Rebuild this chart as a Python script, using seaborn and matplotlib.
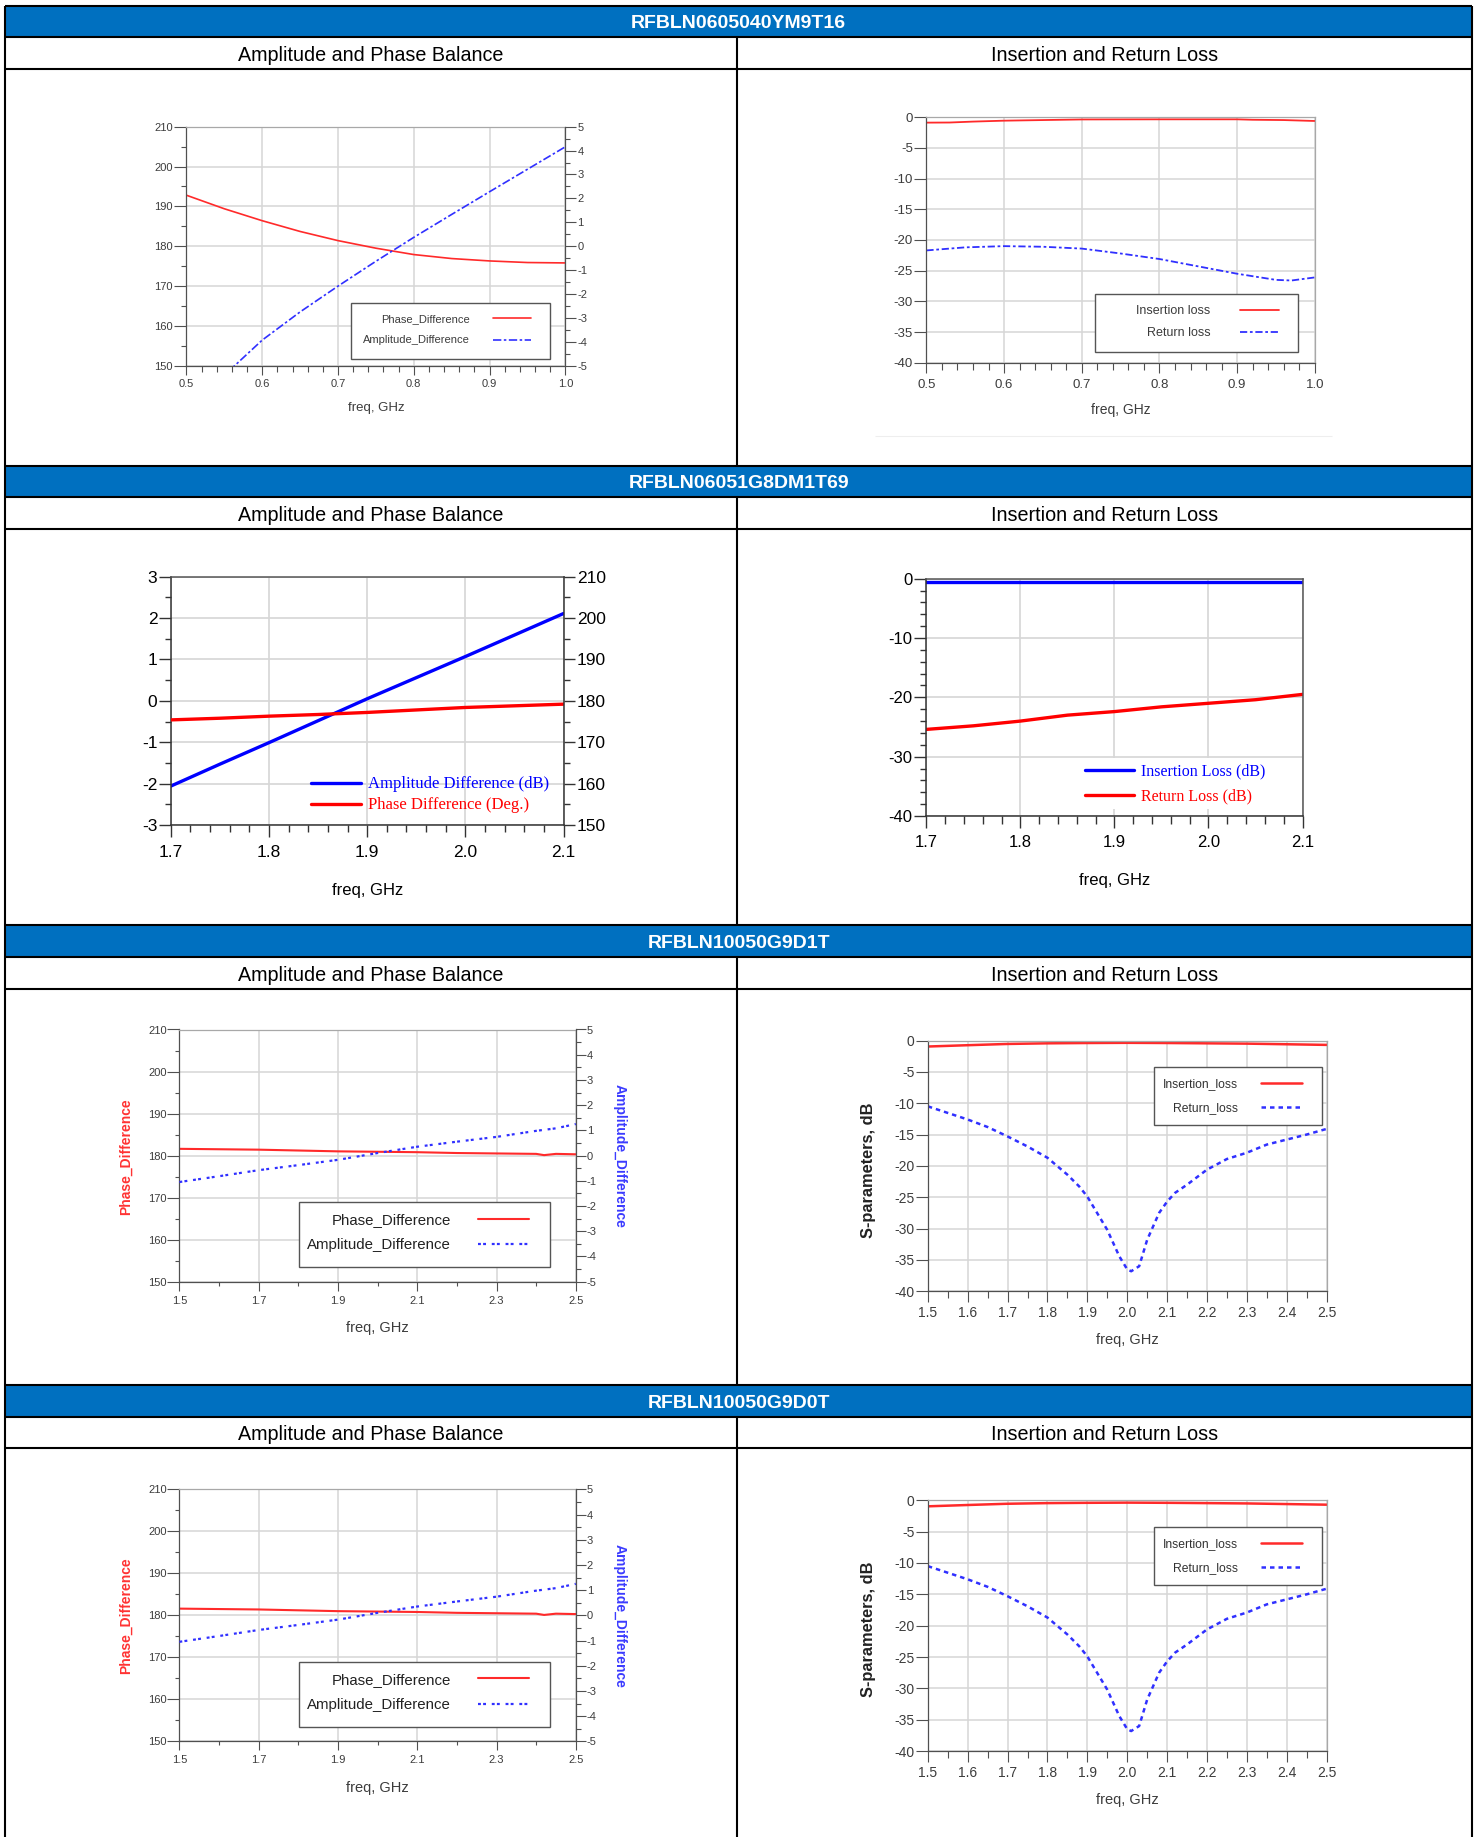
import matplotlib
matplotlib.use("Agg")
import matplotlib.pyplot as plt
from matplotlib.patches import Rectangle
from matplotlib.ticker import MultipleLocator, FixedLocator, FormatStrFormatter
import numpy as np
import pandas as pd
import seaborn as sns

# ------------------------------------------------------------------ data
part_numbers = ["RFBLN0605040YM9T16", "RFBLN06051G8DM1T69", "RFBLN10050G9D1T", "RFBLN10050G9D0T"]
col_headers = ["Amplitude and Phase Balance", "Insertion and Return Loss"]

# RFBLN0605040YM9T16
b1_freq = [0.50, 0.55, 0.60, 0.65, 0.70, 0.75, 0.80, 0.85, 0.90, 0.95, 1.00]
b1_phase_diff = [192.8, 189.4, 186.4, 183.7, 181.4, 179.5, 177.9, 176.9, 176.3, 175.9, 175.8]
b1_amp_diff = [-7.2, -5.4, -3.93, -2.75, -1.67, -0.63, 0.37, 1.33, 2.28, 3.22, 4.16]
b1_il_freq = [0.50, 0.53, 0.56, 0.60, 0.65, 0.70, 0.80, 0.90, 0.92, 0.96, 1.00]
b1_insertion = [-0.87, -0.85, -0.70, -0.55, -0.45, -0.35, -0.33, -0.33, -0.40, -0.45, -0.60]
b1_rl_freq = [0.50, 0.55, 0.60, 0.65, 0.70, 0.75, 0.80, 0.85, 0.90, 0.95, 0.97, 1.00]
b1_return = [-21.7, -21.2, -21.0, -21.1, -21.4, -22.2, -23.1, -24.3, -25.5, -26.5, -26.6, -26.1]

# RFBLN06051G8DM1T69
b2_freq = [1.70, 1.75, 1.80, 1.85, 1.90, 1.95, 2.00, 2.05, 2.10]
b2_amp_diff = [-2.06, -1.53, -1.01, -0.48, 0.05, 0.56, 1.07, 1.59, 2.11]
b2_phase_diff = [175.4, 175.8, 176.3, 176.7, 177.2, 177.8, 178.4, 178.8, 179.2]
b2_insertion = [-0.55, -0.55, -0.55, -0.55, -0.55, -0.55, -0.55, -0.55, -0.55]
b2_return = [-25.4, -24.8, -24.0, -23.0, -22.4, -21.6, -21.0, -20.4, -19.5]

# RFBLN10050G9D1T
b3_freq = [1.5, 1.6, 1.7, 1.8, 1.9, 2.0, 2.1, 2.2, 2.3, 2.4, 2.42, 2.45, 2.5]
b3_phase_diff = [181.6, 181.5, 181.4, 181.2, 181.0, 180.9, 180.8, 180.6, 180.5, 180.4, 180.1, 180.4, 180.3]
b3_amp_diff = [-1.05, -0.82, -0.58, -0.38, -0.17, 0.10, 0.35, 0.55, 0.74, 0.98, 1.02, 1.08, 1.25]
b3_il_freq = [1.5, 1.6, 1.7, 1.8, 1.9, 2.0, 2.1, 2.2, 2.3, 2.4, 2.5]
b3_insertion = [-0.96, -0.75, -0.55, -0.45, -0.40, -0.37, -0.40, -0.45, -0.50, -0.60, -0.70]
b3_rl_freq = [1.5, 1.6, 1.65, 1.7, 1.75, 1.8, 1.85, 1.88, 1.9, 1.95, 1.98, 2.0, 2.01, 2.03,
              2.05, 2.08, 2.1, 2.12, 2.15, 2.2, 2.25, 2.3, 2.35, 2.4, 2.45, 2.5]
b3_return = [-10.5, -12.6, -13.8, -15.3, -16.9, -18.7, -21.4, -23.3, -24.9, -30.2, -34.4, -36.5, -36.8, -36.0,
             -31.8, -27.5, -25.7, -24.3, -23.0, -20.6, -18.9, -17.9, -16.6, -15.8, -15.0, -14.1]
b3_x_ticks = [1.5, 1.7, 1.9, 2.1, 2.3, 2.5]

# RFBLN10050G9D0T (same measured curves)
b4_freq = list(b3_freq)
b4_phase_diff = list(b3_phase_diff)
b4_amp_diff = list(b3_amp_diff)
b4_il_freq = list(b3_il_freq)
b4_insertion = list(b3_insertion)
b4_rl_freq = list(b3_rl_freq)
b4_return = list(b3_return)

# ------------------------------------------------------------------ style
sns.set_style("ticks")
plt.rcParams["font.family"] = ["Liberation Sans", "DejaVu Sans"]
plt.rcParams["axes.unicode_minus"] = False

W, H = 1479, 1837
fig = plt.figure(figsize=(W / 100, H / 100), dpi=100)


def frect(x0, y0, x1, y1):
    return [x0 / W, 1 - y1 / H, (x1 - x0) / W, (y1 - y0) / H]


def fpt(x, y):
    return (x / W, 1 - y / H)


HDR_BLUE = "#0070C0"
GRID = "#d6d6d6"
AX_DARK = "#505050"
AX_LIGHT = "#a8a8a8"
TXT = "#3c3c3c"
RED = "#ff2a2a"
BLUE = "#3030ff"
tops = [5.7, 465.5, 925.3, 1385.1]

# ------------------------------------------------------------------ table layout
bg = fig.add_axes([0, 0, 1, 1], zorder=-10)
bg.set_xlim(0, W)
bg.set_ylim(H, 0)
bg.axis("off")
XL, XR, XM = 5.0, 1472.3, 737.2
LW = 1.5
for k, T in enumerate(tops):
    bg.add_patch(Rectangle((XL, T), XR - XL, 31.5, facecolor=HDR_BLUE, edgecolor="none"))
    bg.hlines([T, T + 31.7, T + 63.3], XL, XR, color="black", lw=LW)
    bottom = tops[k + 1] if k + 1 < len(tops) else H
    bg.vlines(XM, T + 31.7, bottom, color="black", lw=LW)
    bg.text((XL + XR) / 2, T + 22.6, part_numbers[k], ha="center", va="baseline",
            color="white", fontsize=14, fontweight="bold")
    bg.text((XL + XM) / 2, T + 55.3, col_headers[0], ha="center", va="baseline",
            color="black", fontsize=14.2)
    bg.text((XM + XR) / 2, T + 55.3, col_headers[1], ha="center", va="baseline",
            color="black", fontsize=14.2)
bg.vlines([XL, XR], tops[0], H, color="black", lw=LW)
bg.hlines(tops[0] + 430.3, 875, 1332, color="#eeeeee", lw=0.8)


# ------------------------------------------------------------------ helpers
def set_spines(ax, width=0.9, **cols):
    for side in ["left", "right", "top", "bottom"]:
        c = cols.get(side)
        if c is None:
            ax.spines[side].set_visible(False)
        else:
            ax.spines[side].set_visible(True)
            ax.spines[side].set_color(c)
            ax.spines[side].set_linewidth(width)


def ticks(ax, axis, maj_len, min_len, size, color, pad, tcolor=AX_DARK, width=0.8):
    ax.tick_params(axis=axis, which="major", direction="out", length=maj_len, width=width,
                   color=tcolor, labelsize=size, labelcolor=color, pad=pad)
    ax.tick_params(axis=axis, which="minor", direction="out", length=min_len, width=width,
                   color=tcolor)


def place_xlabel(ax, box, text, ycen, **kw):
    x0, y0, x1, y1 = box
    ax.set_xlabel(text, **kw)
    ax.xaxis.set_label_coords(0.5, (y1 - ycen) / (y1 - y0))
    ax.xaxis.label.set_va("center")


def place_ylabel(ax, box, text, xcen, ycen, **kw):
    x0, y0, x1, y1 = box
    ax.set_ylabel(text, **kw)
    ax.yaxis.set_label_coords((xcen - x0) / (x1 - x0), (y1 - ycen) / (y1 - y0))
    ax.yaxis.label.set_va("center")
    ax.yaxis.label.set_ha("center")


def legend_frame(ax, x0, y0, x1, y1):
    r = Rectangle(fpt(x0, y1), (x1 - x0) / W, (y1 - y0) / H, transform=fig.transFigure,
                  facecolor="white", edgecolor="#555555", lw=1.0, zorder=4)
    ax.add_artist(r)


def all_handles(*axes):
    hs, ls = [], []
    for a in axes:
        h, l = a.get_legend_handles_labels()
        hs += h
        ls += l
    return hs, ls


# ------------------------------------------------------------------ block 1 left
T = tops[0]
box = (186.4, T + 121.0, 565.4, T + 360.0)
ax = fig.add_axes(frect(*box))
ax2 = ax.twinx()
sns.lineplot(x=b1_freq, y=b1_phase_diff, ax=ax, color=RED, linewidth=1.2,
             label="Phase_Difference", legend=False)
sns.lineplot(x=b1_freq, y=b1_amp_diff, ax=ax2, color=BLUE, linewidth=1.2,
             linestyle=(0, (5, 1.5, 1.5, 1.5)), label="Amplitude_Difference", legend=False)
ax.set_xlim(0.5, 1.0)
ax.set_ylim(150, 210)
ax2.set_ylim(-5, 5)
ax.xaxis.set_major_locator(MultipleLocator(0.1))
ax.xaxis.set_minor_locator(MultipleLocator(0.02))
ax.yaxis.set_major_locator(MultipleLocator(10))
ax.yaxis.set_minor_locator(MultipleLocator(5))
ax2.yaxis.set_major_locator(MultipleLocator(1))
ax2.yaxis.set_minor_locator(MultipleLocator(0.5))
ax.xaxis.set_major_formatter(FormatStrFormatter("%.1f"))
ax.yaxis.set_major_formatter(FormatStrFormatter("%d"))
ax2.yaxis.set_major_formatter(FormatStrFormatter("%d"))
ax.grid(True, which="major", color=GRID, lw=1.1)
ax.set_axisbelow(True)
set_spines(ax, left=AX_DARK, bottom=AX_DARK, top=AX_LIGHT)
set_spines(ax2, right=AX_DARK)
ticks(ax, "y", 8.6, 3.6, 8, TXT, 1.0)
ticks(ax, "x", 6.5, 4.3, 8, TXT, 2.8)
ticks(ax2, "y", 7.9, 3.6, 8, TXT, 0.8)
place_xlabel(ax, box, "freq, GHz", T + 402.3, fontsize=9.5, color=TXT)
ax.set_ylabel("")
ax2.set_ylabel("")
legend_frame(ax2, 350.6, T + 297.0, 549.8, T + 353.6)
h, l = all_handles(ax, ax2)
ax2.legend(h, l, loc="center right", bbox_to_anchor=fpt(531, T + 324.2), bbox_transform=fig.transFigure,
           frameon=False, markerfirst=False, fontsize=8, handlelength=3.4, handletextpad=2.1,
           labelspacing=1.0, borderpad=0, borderaxespad=0, labelcolor=TXT)

# ------------------------------------------------------------------ block 1 right
box = (926.4, T + 111.6, 1314.8, T + 357.0)
ax = fig.add_axes(frect(*box))
sns.lineplot(x=b1_il_freq, y=b1_insertion, ax=ax, color=RED, linewidth=1.3,
             label="Insertion loss", legend=False)
sns.lineplot(x=b1_rl_freq, y=b1_return, ax=ax, color=BLUE, linewidth=1.3,
             linestyle=(0, (4, 1.5, 1.5, 1.5)), label="Return loss", legend=False)
ax.set_xlim(0.5, 1.0)
ax.set_ylim(-40, 0)
ax.xaxis.set_major_locator(MultipleLocator(0.1))
ax.xaxis.set_minor_locator(MultipleLocator(0.02))
ax.yaxis.set_major_locator(MultipleLocator(5))
ax.xaxis.set_major_formatter(FormatStrFormatter("%.1f"))
ax.yaxis.set_major_formatter(FormatStrFormatter("%d"))
ax.grid(True, which="major", color=GRID, lw=1.1)
ax.set_axisbelow(True)
set_spines(ax, left=AX_DARK, bottom=AX_DARK, top=AX_LIGHT, right=AX_LIGHT)
ticks(ax, "y", 8.6, 0, 9.5, TXT, 1.0)
ticks(ax, "x", 7.2, 5.0, 9.5, TXT, 4.2)
place_xlabel(ax, box, "freq, GHz", T + 404.3, fontsize=10, color=TXT)
ax.set_ylabel("")
legend_frame(ax, 1095, T + 288.6, 1298, T + 346.0)
h, l = all_handles(ax)
ax.legend(h, l, loc="center right", bbox_to_anchor=fpt(1279, T + 316.3), bbox_transform=fig.transFigure,
          frameon=False, markerfirst=False, fontsize=9, handlelength=3.1, handletextpad=2.4,
          labelspacing=0.8, borderpad=0, borderaxespad=0, labelcolor=TXT)

# ------------------------------------------------------------------ block 2 left
T = tops[1]
box = (170.8, T + 111.2, 563.5, T + 359.5)
ax = fig.add_axes(frect(*box))
ax2 = ax.twinx()
sns.lineplot(x=b2_freq, y=b2_amp_diff, ax=ax, color="#0000ff", linewidth=2.4,
             label="Amplitude Difference (dB)", legend=False)
sns.lineplot(x=b2_freq, y=b2_phase_diff, ax=ax2, color="#ff0000", linewidth=2.4,
             label="Phase Difference (Deg.)", legend=False)
ax.set_xlim(1.7, 2.1)
ax.set_ylim(-3, 3)
ax2.set_ylim(150, 210)
ax.xaxis.set_major_locator(MultipleLocator(0.1))
ax.xaxis.set_minor_locator(MultipleLocator(0.02))
ax.yaxis.set_major_locator(MultipleLocator(1))
ax.yaxis.set_minor_locator(MultipleLocator(0.5))
ax2.yaxis.set_major_locator(MultipleLocator(10))
ax2.yaxis.set_minor_locator(MultipleLocator(5))
ax.xaxis.set_major_formatter(FormatStrFormatter("%.1f"))
ax.yaxis.set_major_formatter(FormatStrFormatter("%d"))
ax2.yaxis.set_major_formatter(FormatStrFormatter("%d"))
ax.grid(True, which="major", color=GRID, lw=1.2)
ax.set_axisbelow(True)
set_spines(ax, width=1.1, left="#333333", bottom="#333333", top="#555555")
set_spines(ax2, width=1.1, right="#333333")
ticks(ax, "y", 9.0, 4.3, 12.5, "black", 0.6, tcolor="#333333", width=1.0)
ticks(ax, "x", 8.6, 5.0, 12.5, "black", 5.8, tcolor="#333333", width=1.0)
ticks(ax2, "y", 8.0, 4.3, 12.5, "black", 1.5, tcolor="#333333", width=1.0)
place_xlabel(ax, box, "freq, GHz", T + 425.0, fontsize=12, color="black")
ax.set_ylabel("")
ax2.set_ylabel("")
h, l = all_handles(ax, ax2)
ax2.legend(h, l, loc="center left", bbox_to_anchor=fpt(311, T + 329.4), bbox_transform=fig.transFigure,
           frameon=False, markerfirst=True, prop={"family": ["Liberation Serif", "DejaVu Serif"], "size": 12},
           handlelength=3.0, handletextpad=0.45, labelspacing=0.3, borderpad=0, borderaxespad=0,
           labelcolor="linecolor")

# ------------------------------------------------------------------ block 2 right
box = (926.4, T + 113.2, 1302.5, T + 350.5)
ax = fig.add_axes(frect(*box))
sns.lineplot(x=b2_freq, y=b2_insertion, ax=ax, color="#0000ff", linewidth=2.4,
             label="Insertion Loss (dB)", legend=False)
sns.lineplot(x=b2_freq, y=b2_return, ax=ax, color="#ff0000", linewidth=2.4,
             label="Return Loss (dB)", legend=False)
ax.set_xlim(1.7, 2.1)
ax.set_ylim(-40, 0)
ax.xaxis.set_major_locator(MultipleLocator(0.1))
ax.xaxis.set_minor_locator(MultipleLocator(0.02))
ax.yaxis.set_major_locator(MultipleLocator(10))
ax.yaxis.set_minor_locator(MultipleLocator(2))
ax.xaxis.set_major_formatter(FormatStrFormatter("%.1f"))
ax.yaxis.set_major_formatter(FormatStrFormatter("%d"))
ax.grid(True, which="major", color=GRID, lw=1.2)
ax.set_axisbelow(True)
set_spines(ax, width=1.1, left="#333333", bottom="#333333", top="#555555", right="#555555")
ticks(ax, "y", 8.6, 4.3, 12, "black", 1.5, tcolor="#333333", width=1.0)
ticks(ax, "x", 8.6, 5.8, 12, "black", 5.3, tcolor="#333333", width=1.0)
place_xlabel(ax, box, "freq, GHz", T + 415.0, fontsize=12, color="black")
ax.set_ylabel("")
h, l = all_handles(ax)
ax.legend(h, l, loc="center left", bbox_to_anchor=fpt(1080, T + 318.4), bbox_transform=fig.transFigure,
          frameon=True, facecolor="white", edgecolor="none", framealpha=1, fancybox=False,
          markerfirst=True, prop={"family": ["Liberation Serif", "DejaVu Serif"], "size": 11.5},
          handlelength=3.1, handletextpad=0.4, labelspacing=0.58, borderpad=0.3, borderaxespad=0,
          labelcolor="linecolor")


# ------------------------------------------------------------------ blocks 3 & 4
def balance_ads(T, freq, phase, amp):
    box = (179.4, T + 104.2, 575.8, T + 356.3)
    ax = fig.add_axes(frect(*box))
    ax2 = ax.twinx()
    sns.lineplot(x=freq, y=phase, ax=ax, color=RED, linewidth=1.5,
                 label="Phase_Difference", legend=False)
    sns.lineplot(x=freq, y=amp, ax=ax2, color=BLUE, linewidth=1.6,
                 linestyle=(0, (1.3, 1.0, 1.3, 2.6)), label="Amplitude_Difference", legend=False)
    ax.set_xlim(1.5, 2.5)
    ax.set_ylim(150, 210)
    ax2.set_ylim(-5, 5)
    ax.xaxis.set_major_locator(FixedLocator(b3_x_ticks))
    ax.xaxis.set_minor_locator(MultipleLocator(0.1))
    ax.yaxis.set_major_locator(MultipleLocator(10))
    ax.yaxis.set_minor_locator(MultipleLocator(5))
    ax2.yaxis.set_major_locator(MultipleLocator(1))
    ax2.yaxis.set_minor_locator(MultipleLocator(0.5))
    ax.xaxis.set_major_formatter(FormatStrFormatter("%.1f"))
    ax.yaxis.set_major_formatter(FormatStrFormatter("%d"))
    ax2.yaxis.set_major_formatter(FormatStrFormatter("%d"))
    ax.grid(True, which="major", color=GRID, lw=1.1)
    ax.set_axisbelow(True)
    set_spines(ax, left=AX_DARK, bottom=AX_DARK, top=AX_LIGHT)
    set_spines(ax2, right=AX_DARK)
    ticks(ax, "y", 8.6, 3.0, 8, TXT, 0.5)
    ticks(ax, "x", 6.5, 3.0, 8, TXT, 3.6)
    ticks(ax2, "y", 7.2, 3.6, 8, TXT, 0.8)
    place_xlabel(ax, box, "freq, GHz", T + 403.0, fontsize=10.5, color=TXT)
    place_ylabel(ax, box, "Phase_Difference", 126, T + 231, fontsize=10, fontweight="bold", color="#ff3333")
    place_ylabel(ax2, box, "Amplitude_Difference", 620, T + 231, fontsize=10, fontweight="bold",
                 color="#3b3bff", rotation=270)
    legend_frame(ax2, 298.7, T + 276.5, 549.8, T + 342.0)
    h, l = all_handles(ax, ax2)
    ax2.legend(h, l, loc="center right", bbox_to_anchor=fpt(528.5, T + 307.2), bbox_transform=fig.transFigure,
               frameon=False, markerfirst=False, fontsize=10.8, handlelength=3.4, handletextpad=1.75,
               labelspacing=0.75, borderpad=0, borderaxespad=0, labelcolor="#222222")


def sparam_ads(T, il_freq, il, rl_freq, rl):
    box = (927.8, T + 115.2, 1326.6, T + 366.0)
    ax = fig.add_axes(frect(*box))
    sns.lineplot(x=il_freq, y=il, ax=ax, color=RED, linewidth=1.8,
                 label="Insertion_loss", legend=False)
    sns.lineplot(x=rl_freq, y=rl, ax=ax, color=BLUE, linewidth=1.8,
                 linestyle=(0, (1.8, 1.6)), label="Return_loss", legend=False)
    ax.set_xlim(1.5, 2.5)
    ax.set_ylim(-40, 0)
    ax.xaxis.set_major_locator(MultipleLocator(0.1))
    ax.xaxis.set_minor_locator(MultipleLocator(0.05))
    ax.yaxis.set_major_locator(MultipleLocator(5))
    ax.xaxis.set_major_formatter(FormatStrFormatter("%.1f"))
    ax.yaxis.set_major_formatter(FormatStrFormatter("%d"))
    ax.grid(True, which="major", color=GRID, lw=1.1)
    ax.set_axisbelow(True)
    set_spines(ax, left=AX_DARK, bottom=AX_DARK, top=AX_LIGHT, right=AX_LIGHT)
    ticks(ax, "y", 8.6, 0, 10, TXT, 1.0)
    ticks(ax, "x", 8.0, 5.0, 10, TXT, 2.6)
    place_xlabel(ax, box, "freq, GHz", T + 415.0, fontsize=10.5, color=TXT)
    place_ylabel(ax, box, "S-parameters, dB", 868.5, T + 244.6, fontsize=11.8, fontweight="bold", color="#222222")
    legend_frame(ax, 1153.9, T + 142.0, 1321.9, T + 200.0)
    h, l = all_handles(ax)
    ax.legend(h, l, loc="center right", bbox_to_anchor=fpt(1302.5, T + 170.7), bbox_transform=fig.transFigure,
              frameon=False, markerfirst=False, fontsize=8.7, handlelength=3.4, handletextpad=1.9,
              labelspacing=1.0, borderpad=0, borderaxespad=0, labelcolor="#333333")


balance_ads(tops[2], b3_freq, b3_phase_diff, b3_amp_diff)
sparam_ads(tops[2], b3_il_freq, b3_insertion, b3_rl_freq, b3_return)
balance_ads(tops[3], b4_freq, b4_phase_diff, b4_amp_diff)
sparam_ads(tops[3], b4_il_freq, b4_insertion, b4_rl_freq, b4_return)

fig.savefig("out.png", dpi=100)
